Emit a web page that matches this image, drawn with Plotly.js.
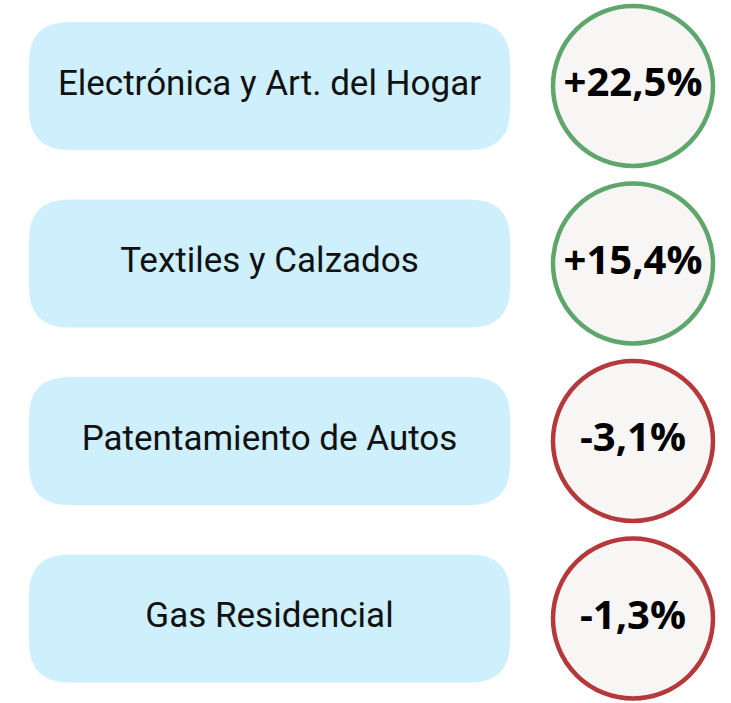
<!DOCTYPE html>
<html><head><meta charset="utf-8">
<script src="https://cdn.plot.ly/plotly-3.0.1.min.js"></script>
<style>html,body{margin:0;padding:0;background:#fff;}#chart{width:731px;height:703px;}</style>
</head><body><div id="chart"></div>
<script>
const categories = ["Electrónica y Art. del Hogar", "Textiles y Calzados", "Patentamiento de Autos", "Gas Residencial"];
const changes = [22.5, 15.4, -3.1, -1.3];
const changeLabels = ["+22,5%", "+15,4%", "-3,1%", "-1,3%"];

const W = 731, H = 703;
const rowY = categories.map((c, i) => 86 + i * 177.5);
const boxX0 = 29, boxX1 = 510, boxHalf = 64, rad = 40;
const circX = 633;

function roundRect(x0, y0, x1, y1, r) {
  return `M ${x0 + r},${y0} L ${x1 - r},${y0} Q ${x1},${y0} ${x1},${y0 + r} L ${x1},${y1 - r} Q ${x1},${y1} ${x1 - r},${y1} L ${x0 + r},${y1} Q ${x0},${y1} ${x0},${y1 - r} L ${x0},${y0 + r} Q ${x0},${y0} ${x0 + r},${y0} Z`;
}

const shapes = rowY.map(y => ({
  type: 'path', xref: 'x', yref: 'y', layer: 'below',
  path: roundRect(boxX0, y - boxHalf, boxX1, y + boxHalf, rad),
  fillcolor: '#CEF0FC', line: {width: 0}
}));

const traces = [
  {
    type: 'scatter', mode: 'text',
    x: categories.map(() => (boxX0 + boxX1) / 2), y: rowY,
    text: categories, textposition: 'middle center',
    textfont: {family: 'Roboto', size: 35, color: '#111111', weight: 'normal'},
    hoverinfo: 'skip', showlegend: false
  },
  {
    type: 'scatter', mode: 'markers+text',
    x: categories.map(() => circX), y: rowY,
    text: changeLabels, textposition: 'middle center',
    textfont: {family: 'Open Sans', size: 40, color: '#000000', weight: 'bold'},
    marker: {
      symbol: 'circle', size: 160, color: '#F7F6F5',
      line: {width: 4.5, color: changes.map(v => v >= 0 ? '#5EA66B' : '#B5393B')}
    },
    hoverinfo: 'skip', showlegend: false
  }
];

const layout = {
  width: W, height: H,
  margin: {l: 0, r: 0, t: 0, b: 0},
  paper_bgcolor: '#ffffff', plot_bgcolor: '#ffffff',
  xaxis: {range: [0, W], visible: false, fixedrange: true},
  yaxis: {range: [H, 0], visible: false, fixedrange: true},
  shapes: shapes, showlegend: false
};

Plotly.newPlot('chart', traces, layout, {displayModeBar: false, staticPlot: true});
</script>
</body></html>
